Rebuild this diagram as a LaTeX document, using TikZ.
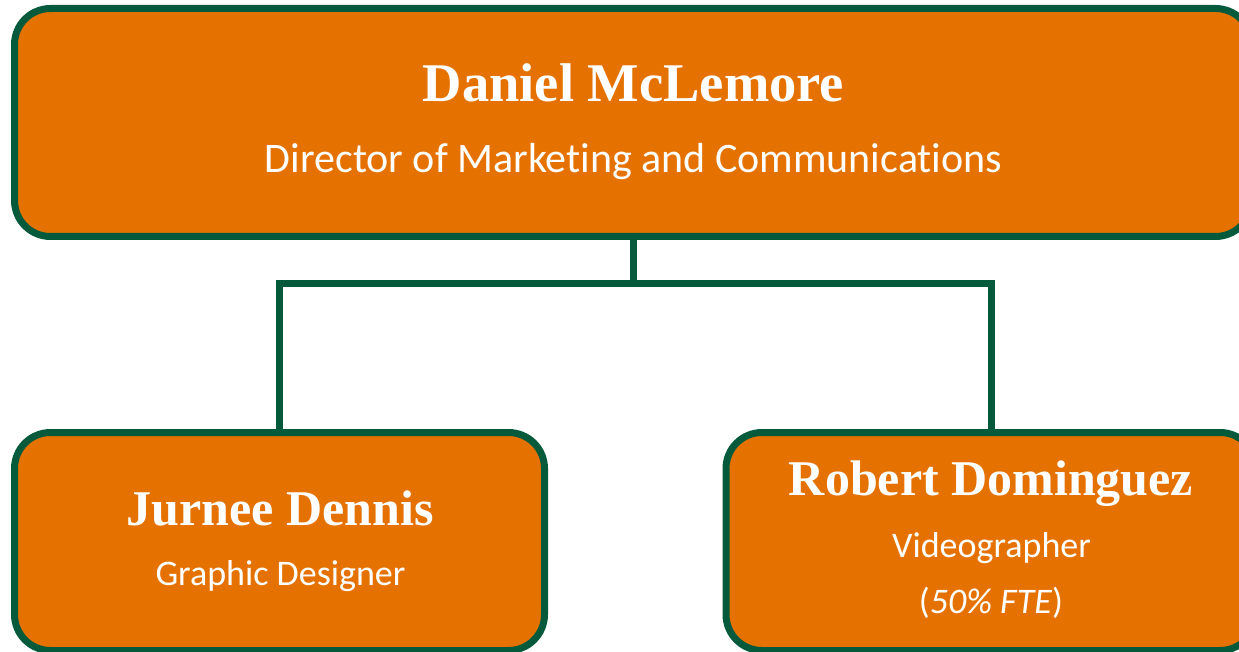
\documentclass[tikz,border=0pt]{standalone}
\usepackage{fontspec}
\setmainfont{Liberation Serif}
\newfontfamily\carl[Ligatures=NoCommon]{Carlito}
\definecolor{boxorange}{RGB}{229,114,0}
\definecolor{boxgreen}{RGB}{5,90,60}
\begin{document}
\begin{tikzpicture}[x=1pt,y=-1pt,
  orgbox/.style={draw=boxgreen,fill=boxorange,line width=7pt,rounded corners=36pt,
    inner sep=0pt,minimum width=#1,rectangle},
  link/.style={draw=boxgreen,line width=7pt},
  pname/.style={text=white,inner sep=0pt,anchor=base,font=\bfseries\fontsize{#1}{#1}\selectfont},
  prole/.style={text=white,inner sep=0pt,anchor=base,font=\carl\fontsize{#1}{#1}\selectfont}]
\useasboundingbox (0,0) rectangle (1239,652);
\clip (0,0) rectangle (1239,652);
\node[orgbox=1237pt,minimum height=228pt] (top) at (633,122.5) {};
\node[orgbox=530pt,minimum height=218pt] (left) at (279.5,541.5) {};
\node[orgbox=530pt,minimum height=218pt] (right) at (991,541.5) {};
\coordinate (j) at (633,283.5);
\draw[link] (top.south) -- (j);
\draw[link] (left.north) |- (j) -| (right.north);
\node[pname=54.5pt] (n1) at (633.5,102) {Daniel McLemore};
\node[prole=42pt] (r1) at (633.5,173) {Director of Marketing and Communications};
\node[pname=50pt] (n2) at (280,525) {Jurnee Dennis};
\node[prole=36pt] (r2) at (280.5,585) {Graphic Designer};
\node[pname=50pt] (n3) at (991,495) {Robert Dominguez};
\node[prole=36pt] (r3) at (991.5,557) {Videographer};
\node[prole=36pt] (r4) at (991,613) {(\textit{50\% FTE})};
\end{tikzpicture}
\end{document}
